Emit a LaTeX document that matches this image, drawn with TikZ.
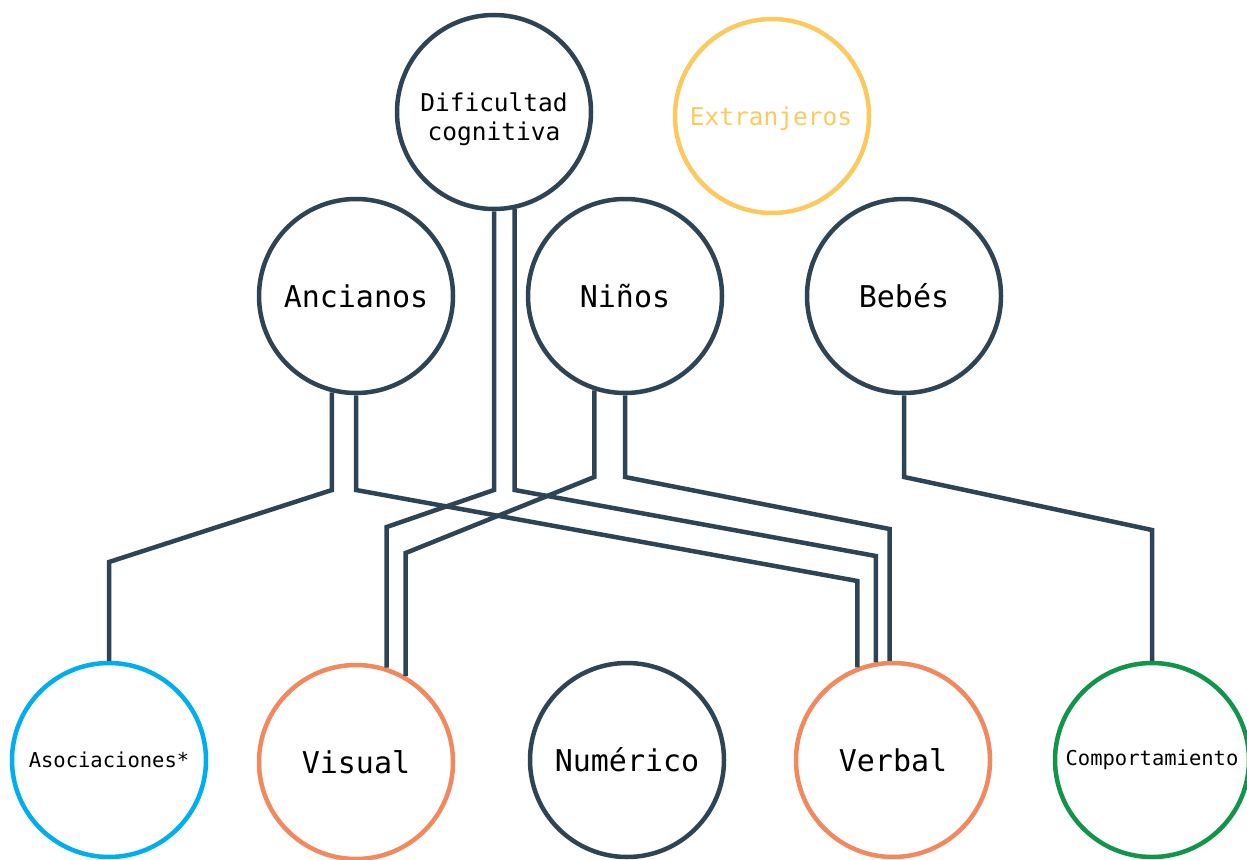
\documentclass[tikz,border=0pt]{standalone}
\usepackage{fontspec}
\setmainfont{DejaVu Sans Mono}
\definecolor{slate}{HTML}{2E4454}
\definecolor{sun}{HTML}{FACA5E}
\definecolor{sky}{HTML}{00AEEF}
\definecolor{coral}{HTML}{F2885E}
\definecolor{leaf}{HTML}{11954A}
\begin{document}
\begin{tikzpicture}[x=1pt,y=-1pt,
  bubble/.style={circle,draw=#1,line width=4.5pt,minimum size=194pt,inner sep=0pt,align=center},
  caption/.style={inner sep=0pt,align=center},
  big/.style={font=\fontsize{30}{34}\selectfont},
  mid/.style={font=\fontsize{24.5}{29}\selectfont},
  small/.style={font=\fontsize{20.5}{24}\selectfont},
  link/.style={draw=slate,line width=4.5pt}]
\useasboundingbox (0,0) rectangle (1247,859);

% top row
\node[bubble=slate] (dif) at (494,112) {};
\node[caption,mid] (diftext) at (494,119) {Dificultad\\cognitiva};
\node[bubble=sun] (ext) at (772,116) {};
\node[caption,mid,text=sun] (exttext) at (771,119) {Extranjeros};
% middle row
\node[bubble=slate,big] (anc) at (356,296) {Ancianos};
\node[bubble=slate,big] (nin) at (625,296) {Niños};
\node[bubble=slate,big] (beb) at (904,296) {Bebés};
% bottom row
\node[bubble=sky,small] (aso) at (109,760) {Asociaciones*};
\node[bubble=coral,big] (vis) at (356,762) {\raisebox{-1pt}{Visual}};
\node[bubble=slate,big] (num) at (627,760) {Numérico};
\node[bubble=coral,big] (ver) at (893,760) {\raisebox{-1pt}{Verbal}};
\node[bubble=leaf,small] (com) at (1152,760) {Comportamiento};

% heights of the bends
\coordinate (h477) at (0,477);
\coordinate (h490) at (0,490);
\coordinate (h527) at (0,527);
\coordinate (h529) at (0,529);
\coordinate (h530) at (0,530);
\coordinate (h553) at (0,553);
\coordinate (h556) at (0,556);
\coordinate (h562) at (0,562);
\coordinate (h581) at (0,581);

% Ancianos
\draw[link] (anc.-104) -- (anc.-104 |- h490) -- (aso.north |- h562) -- (aso.north);
\draw[link] (anc.south) -- (anc.south |- h490) -- (ver.111 |- h581) -- (ver.111);
% Dificultad cognitiva
\draw[link] (dif.south) -- (dif.south |- h490) -- (vis.72 |- h527) -- (vis.72);
\draw[link] (dif.-78) -- (dif.-78 |- h490) -- (ver.100 |- h556) -- (ver.100);
% Niños
\draw[link] (nin.-108) -- (nin.-108 |- h477) -- (vis.60 |- h553) -- (vis.60);
\draw[link] (nin.south) -- (nin.south |- h477) -- (ver.92 |- h529) -- (ver.92);
% Bebés
\draw[link] (beb.south) -- (beb.south |- h477) -- (com.north |- h530) -- (com.north);
\end{tikzpicture}
\end{document}
